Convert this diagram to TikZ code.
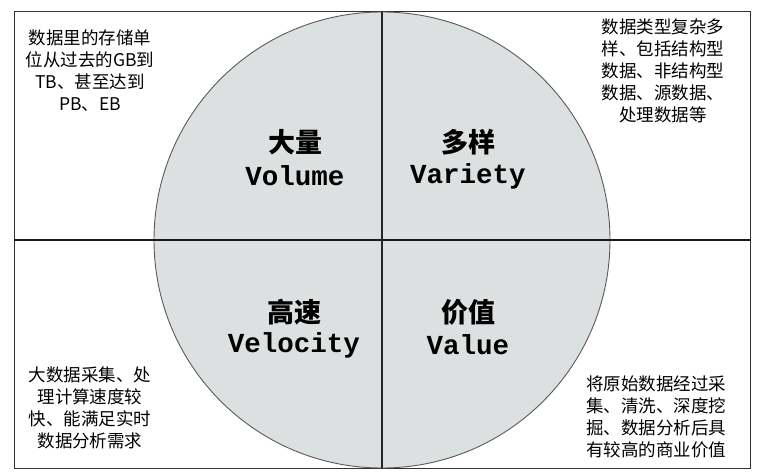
\documentclass[tikz,border=0pt]{standalone}
\usepackage{fontspec}
\newfontfamily\cjk{Noto Sans CJK SC}
\newfontfamily\mono{Liberation Mono}
\definecolor{cfill}{RGB}{221,224,225}
\definecolor{cline}{RGB}{90,90,90}
\definecolor{bline}{RGB}{50,50,50}
\begin{document}
\begin{tikzpicture}[x=1pt,y=-1pt,
  corner/.style={align=center,inner sep=0pt,font=\cjk\fontsize{17.5}{22}\selectfont},
  bigcn/.style={inner sep=0pt,font=\cjk\bfseries\fontsize{27}{30}\selectfont},
  bigen/.style={inner sep=0pt,font=\mono\bfseries\fontsize{27.5}{30}\selectfont}]
\useasboundingbox (0,0) rectangle (763,473);
\node[draw=bline,line width=1pt,minimum width=736pt,minimum height=456pt,inner sep=0pt] (box) at (382,240) {};
\node[circle,draw=cline,fill=cfill,line width=0.9pt,minimum size=456pt,inner sep=0pt] (circ) at (382,240) {};
\draw[line width=1.8pt,black!90] (box.west) -- (box.east);
\draw[line width=1.4pt,black!85] (circ.north) -- (circ.south);
\node[bigcn] (volcn) at (295,142) {大量};
\node[bigen] (volen) at (295,176) {Volume};
\node[bigcn] (varcn) at (468,142) {多样};
\node[bigen] (varen) at (468,176) {Variety};
\node[bigcn] (velcn) at (294,312) {高速};
\node[bigen] (velen) at (294,345) {Velocity};
\node[bigcn] (valcn) at (468,312) {价值};
\node[bigen] (valen) at (468,345) {Value};
\node[corner] (tl) at (90,71) {数据里的存储单\\位从过去的GB到\\TB、甚至达到\\PB、EB};
\node[corner] (tr) at (663,71) {数据类型复杂多\\样、包括结构型\\数据、非结构型\\数据、源数据、\\处理数据等};
\node[corner] (bl) at (90,408) {大数据采集、处\\理计算速度较\\快、能满足实时\\数据分析需求};
\node[corner] (br) at (656,417) {将原始数据经过采\\集、清洗、深度挖\\掘、数据分析后具\\有较高的商业价值};
\end{tikzpicture}
\end{document}
